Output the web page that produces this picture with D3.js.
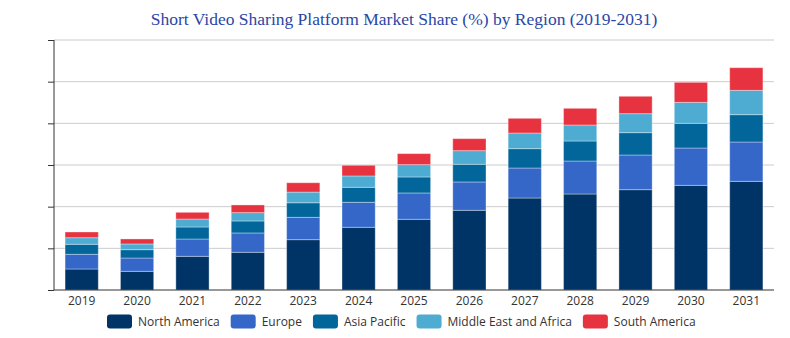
<!DOCTYPE html>
<html>
<head>
<meta charset="utf-8">
<script src="https://cdn.jsdelivr.net/npm/d3@7"></script>
<style>
  body { margin: 0; background: #fff; }
  svg { display: block; }
</style>
</head>
<body>
<div id="chart"></div>
<script>
// market share by region, stacked per year
var years = ["2019", "2020", "2021", "2022", "2023", "2024", "2025", "2026", "2027", "2028", "2029", "2030", "2031"];
var regions = ["North America", "Europe", "Asia Pacific", "Middle East and Africa", "South America"];
var northAmerica = [5.04, 4.48, 8.08, 9.05, 12.08, 15.05, 16.97, 19.13, 22.08, 23.04, 24.08, 25.12, 26.08];
var europe = [3.53, 3.2, 4.16, 4.64, 5.36, 6.0, 6.32, 6.8, 7.2, 7.92, 8.32, 8.96, 9.44];
var asiaPacific = [2.4, 2.0, 2.88, 2.88, 3.5, 3.6, 3.84, 4.24, 4.64, 4.8, 5.36, 5.92, 6.56];
var middleEastAfrica = [1.58, 1.37, 1.92, 2.0, 2.56, 2.72, 2.96, 3.27, 3.76, 3.84, 4.56, 5.04, 5.84];
var southAmerica = [1.37, 1.2, 1.6, 1.84, 2.24, 2.56, 2.64, 2.88, 3.52, 4.0, 4.17, 4.8, 5.43];
var colors = ["#003366", "#3467c8", "#02669a", "#4eabd2", "#e7323f"];

var width = 790, height = 338;
var margin = { top: 40, right: 16, bottom: 48, left: 54 };
var w = width - margin.left - margin.right,
  h = height - margin.top - margin.bottom;

var svg = d3.select("#chart").append("svg")
  .attr("width", width)
  .attr("height", height);

svg.append("text")
  .attr("x", 404)
  .attr("y", 25)
  .attr("text-anchor", "middle")
  .style("font-family", "'Liberation Serif', 'DejaVu Serif', serif")
  .style("font-size", "17.5px")
  .style("fill", "#2b47a6")
  .text("Short Video Sharing Platform Market Share (%) by Region (2019-2031)");

var g = svg.append("g")
  .attr("transform", "translate(" + margin.left + "," + margin.top + ")");

var table = years.map(function (y, i) {
  return {
    year: y,
    "North America": northAmerica[i],
    "Europe": europe[i],
    "Asia Pacific": asiaPacific[i],
    "Middle East and Africa": middleEastAfrica[i],
    "South America": southAmerica[i]
  };
});

var stacked = d3.stack().keys(regions)(table);

var x = d3.scaleBand().domain(years).range([0, w]).paddingInner(0.4).paddingOuter(0.2);
var y = d3.scaleLinear().domain([0, 60]).range([h, 0]);

// gridlines
g.append("g")
  .selectAll("line")
  .data(y.ticks(6).slice(1))
  .enter()
  .append("line")
  .attr("x1", 0)
  .attr("x2", w)
  .attr("y1", function (d) { return y(d); })
  .attr("y2", function (d) { return y(d); })
  .attr("stroke", "#cccccc")
  .attr("stroke-width", 1);

// bars
g.append("g")
  .selectAll("g")
  .data(stacked)
  .enter()
  .append("g")
  .attr("fill", function (d, i) { return colors[i]; })
  .selectAll("rect")
  .data(function (d) { return d; })
  .enter()
  .append("rect")
  .attr("x", function (d) { return x(d.data.year); })
  .attr("width", x.bandwidth())
  .attr("y", function (d) { return y(d[1]); })
  .attr("height", function (d) { return y(d[0]) - y(d[1]); })
  .attr("stroke", "rgba(255,255,255,0.35)")
  .attr("stroke-width", 1);

// y axis, no labels
var yAxis = g.append("g")
  .call(d3.axisLeft(y).ticks(6).tickSize(6).tickFormat(""));
yAxis.select(".domain").attr("stroke", "#333").attr("d", "M0," + y(60) + "V" + h);
yAxis.selectAll(".tick line").attr("stroke", "#333");

// x axis
var xAxis = g.append("g")
  .attr("transform", "translate(0," + h + ")")
  .call(d3.axisBottom(x).tickSize(0).tickPadding(6));
xAxis.select(".domain").attr("stroke", "#333").attr("d", "M0,0H" + w);
xAxis.selectAll("text")
  .style("font-family", "'Open Sans', 'Noto Sans', sans-serif")
  .style("font-size", "12px")
  .style("fill", "#333");

// legend
var legend = svg.append("g").attr("transform", "translate(0,314)");
var lx = 107;
regions.forEach(function (r, i) {
  legend.append("rect")
    .attr("x", lx)
    .attr("y", 0.5)
    .attr("width", 25)
    .attr("height", 14)
    .attr("rx", 3)
    .attr("fill", colors[i]);
  var t = legend.append("text")
    .attr("x", lx + 31)
    .attr("y", 12)
    .style("font-family", "'Open Sans', 'Noto Sans', sans-serif")
    .style("font-size", "12px")
    .style("fill", "#333")
    .text(r);
  lx += 31 + t.node().getComputedTextLength() + 11;
});
</script>
</body>
</html>
